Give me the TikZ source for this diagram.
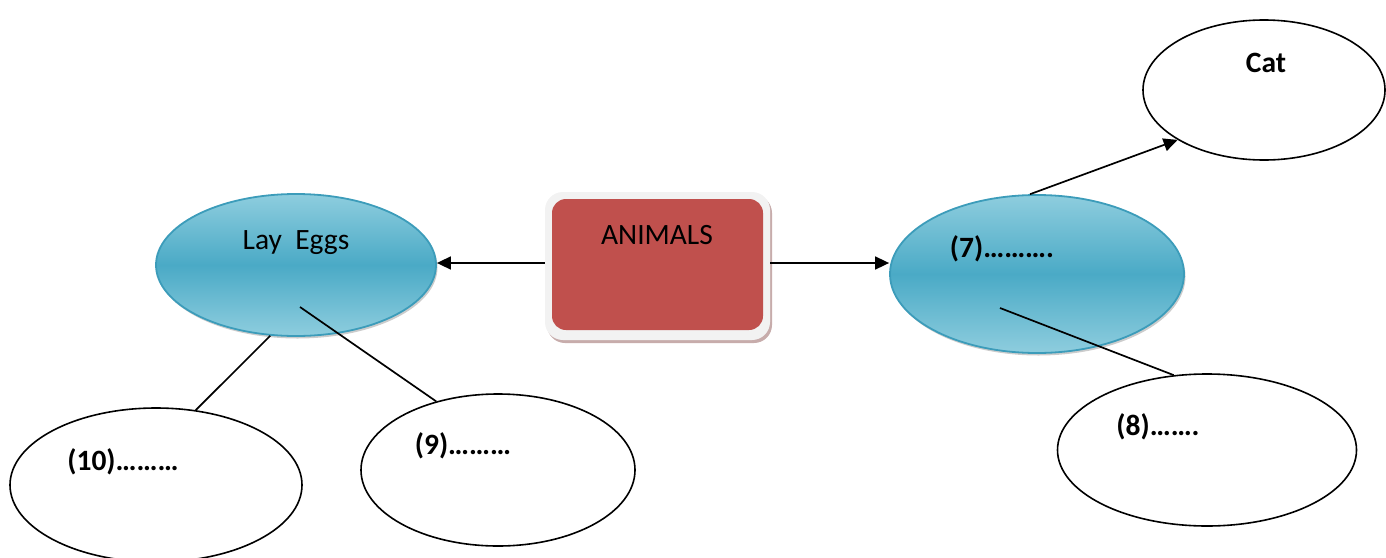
\documentclass[tikz,border=0pt]{standalone}
\usepackage{fontspec}
\setmainfont{Carlito}
\usetikzlibrary{shapes.geometric,arrows.meta,shadows}
\definecolor{skytop}{HTML}{8ECDDE}
\definecolor{skymid}{HTML}{4AAAC6}
\definecolor{skyedge}{HTML}{3C9CBA}
\definecolor{brick}{HTML}{C0504D}
\definecolor{frame}{HTML}{F2F2F2}
\begin{document}
\begin{tikzpicture}[x=1pt,y=-1pt,
  bubble/.style={ellipse,draw=skyedge,line width=1.8pt,inner sep=0pt,
    top color=skytop,bottom color=skytop,middle color=skymid,
    drop shadow={shadow xshift=1.5pt,shadow yshift=-2.5pt,opacity=0.4}},
  blank/.style={ellipse,draw=black,line width=1.6pt,fill=white,inner sep=0pt},
  caption/.style={font=\fontsize{29.5}{34}\selectfont,inner sep=0pt},
  tag/.style={font=\fontsize{29.5}{34}\selectfont\bfseries,inner sep=0pt},
  link/.style={line width=1.7pt,draw=black},
  arrow/.style={link,-{Triangle[length=14pt,width=13pt]}}
]
\useasboundingbox (0,0) rectangle (1386,557);

% central box: light frame with red core
\node[fill=frame,rounded corners=18pt,minimum width=225pt,minimum height=148pt,
  inner sep=0pt,drop shadow={shadow xshift=2pt,shadow yshift=-3pt,opacity=0.4,fill=brick!60!black}]
  (animals) at (657.5,266) {};
\node[fill=brick,rounded corners=14pt,minimum width=211pt,minimum height=131pt,inner sep=0pt]
  (core) at (657.5,264.5) {};
\node[caption] (animalstext) at (657,235) {ANIMALS};

% blue category ellipses
\node[bubble,minimum width=280pt,minimum height=142pt] (lay) at (296,265) {};
\node[caption] (laytext) at (296,243) {Lay~ Eggs};
\node[bubble,minimum width=294pt,minimum height=158pt] (seven) at (1037,274) {};
\node[tag] (seventext) at (1002,249) {(7)……….};

% answer ellipses
\node[blank,minimum width=242pt,minimum height=140pt] (cat) at (1264,90) {};
\node[tag] (cattext) at (1266,63) {Cat};
\node[blank,minimum width=299pt,minimum height=152pt] (eight) at (1207,450) {};
\node[tag] (eighttext) at (1158,427) {(8)…….};
\node[blank,minimum width=274pt,minimum height=152pt] (nine) at (498,470) {};
\node[tag] (ninetext) at (463,446) {(9)………};
\node[blank,minimum width=292pt,minimum height=154pt] (ten) at (156,485) {};
\node[tag] (tentext) at (123,462) {(10)………};

% connectors
\draw[arrow] ([yshift=3pt]animals.west) -- ([yshift=3pt]animals.west -| lay.east);
\draw[arrow] ([yshift=3pt]animals.east) -- ([yshift=3pt]animals.east -| seven.west);
\draw[arrow] (seven.95) -- (cat.210);
\coordinate (layinner) at (300,307);
\coordinate (seveninner) at (1000,308);
\draw[link] (layinner) -- (nine.132);
\draw[link] (lay.-110) -- (ten.62.5);
\draw[link] (seveninner) -- (eight.114.7);
\end{tikzpicture}
\end{document}
